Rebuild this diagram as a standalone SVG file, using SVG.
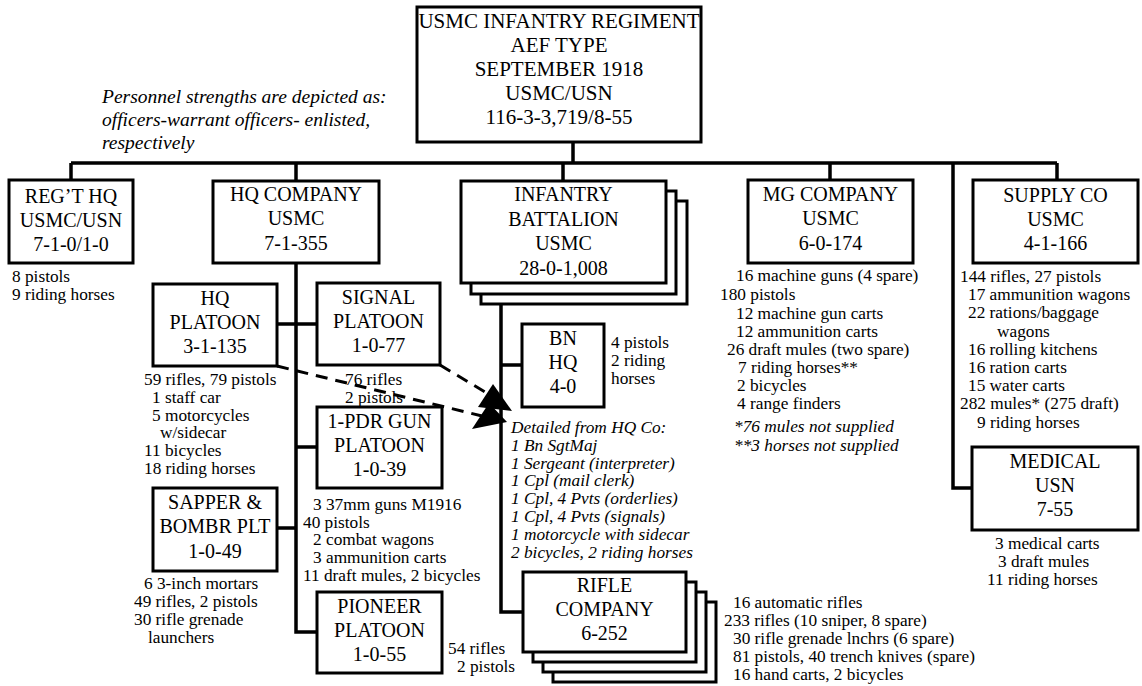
<svg xmlns="http://www.w3.org/2000/svg" width="1142" height="686" viewBox="0 0 1142 686" font-family="Liberation Serif, Times New Roman, Times, serif">
<style>
text{font-family:"Liberation Serif","Times New Roman",Times,serif;fill:#000}
.box{fill:#fff;stroke:#000;stroke-width:3}
.t{font-size:20px;text-anchor:middle}
.h{font-size:21px}
.l{font-size:17.3px}
.i{font-style:italic}
.n{font-size:19.5px}
.c{stroke:#000;stroke-width:3.5;fill:none}
.d{stroke:#000;stroke-width:3;fill:none;stroke-dasharray:12 8}
</style>
<rect width="1142" height="686" fill="#fff"/>

<g id="connectors">
<path class="c" d="M573 142V163M71 163H1057M71 163V180M296 163V181M563 163V181M830 163V180M1057 163V180M953 163V488H972"/>
<path class="c" d="M296 263V632H317M277 324H317M296 447H317M277 528H296"/>
<path class="c" d="M501 304V612H523M501 365H522"/>
<path class="d" d="M277 366L482 416M440 365L490 395"/>
<polygon points="493,384 478,407 512,411" fill="#000"/>
<polygon points="489,403 472,429 507,422" fill="#000"/>
</g>

<g id="note">
<text class="l i n" x="102" y="103">Personnel strengths are depicted as:</text>
<text class="l i n" x="102" y="126">officers-warrant officers- enlisted,</text>
<text class="l i n" x="102" y="149">respectively</text>
</g>

<g id="regiment">
<rect class="box" x="417" y="7" width="284" height="135"/>
<text class="t h" x="559" y="28">USMC INFANTRY REGIMENT</text>
<text class="t h" x="559" y="52">AEF TYPE</text>
<text class="t h" x="559" y="76">SEPTEMBER 1918</text>
<text class="t h" x="559" y="100">USMC/USN</text>
<text class="t h" x="559" y="124">116-3-3,719/8-55</text>
</g>

<g id="regt-hq">
<rect class="box" x="9" y="180" width="124" height="83"/>
<text class="t" x="71" y="203">REG’T HQ</text>
<text class="t" x="71" y="227">USMC/USN</text>
<text class="t" x="71" y="251">7-1-0/1-0</text>
<text class="l" x="12" y="282">8 pistols</text>
<text class="l" x="12" y="300">9 riding horses</text>
</g>

<g id="hq-company">
<rect class="box" x="213" y="181" width="166" height="82"/>
<text class="t" x="296" y="201">HQ COMPANY</text>
<text class="t" x="296" y="225">USMC</text>
<text class="t" x="296" y="250">7-1-355</text>
</g>

<g id="hq-platoon">
<rect class="box" x="153" y="284" width="124" height="82"/>
<text class="t" x="215" y="305">HQ</text>
<text class="t" x="215" y="329">PLATOON</text>
<text class="t" x="215" y="353">3-1-135</text>
<text class="l" x="144" y="385">59 rifles, 79 pistols</text>
<text class="l" x="152" y="403">1 staff car</text>
<text class="l" x="152" y="421">5 motorcycles</text>
<text class="l" x="160" y="438">w/sidecar</text>
<text class="l" x="144" y="456">11 bicycles</text>
<text class="l" x="144" y="474">18 riding horses</text>
</g>

<g id="signal-platoon">
<rect class="box" x="317" y="283" width="123" height="82"/>
<text class="t" x="378.5" y="304">SIGNAL</text>
<text class="t" x="378.5" y="328">PLATOON</text>
<text class="t" x="378.5" y="352">1-0-77</text>
<text class="l" x="345" y="385">76 rifles</text>
<text class="l" x="345" y="403">2 pistols</text>
</g>

<g id="pdr-platoon">
<rect class="box" x="317" y="407" width="125" height="81"/>
<text class="t" x="379.5" y="428">1-PDR GUN</text>
<text class="t" x="379.5" y="452">PLATOON</text>
<text class="t" x="379.5" y="476">1-0-39</text>
<text class="l" x="313" y="510">3 37mm guns M1916</text>
<text class="l" x="303" y="528">40 pistols</text>
<text class="l" x="313" y="545">2 combat wagons</text>
<text class="l" x="313" y="563">3 ammunition carts</text>
<text class="l" x="303" y="581">11 draft mules, 2 bicycles</text>
</g>

<g id="sapper-platoon">
<rect class="box" x="153" y="488" width="124" height="83"/>
<text class="t" x="215" y="509">SAPPER &amp;</text>
<text class="t" x="215" y="533">BOMBR PLT</text>
<text class="t" x="215" y="558">1-0-49</text>
<text class="l" x="144" y="589">6 3-inch mortars</text>
<text class="l" x="134" y="607">49 rifles, 2 pistols</text>
<text class="l" x="134" y="625">30 rifle grenade</text>
<text class="l" x="148" y="643">launchers</text>
</g>

<g id="pioneer-platoon">
<rect class="box" x="317" y="592" width="125" height="81"/>
<text class="t" x="379.5" y="613">PIONEER</text>
<text class="t" x="379.5" y="637">PLATOON</text>
<text class="t" x="379.5" y="661">1-0-55</text>
<text class="l" x="448" y="654">54 rifles</text>
<text class="l" x="457" y="672">2 pistols</text>
</g>

<g id="infantry-battalion">
<rect class="box" x="481" y="201" width="206" height="103"/>
<rect class="box" x="471" y="191" width="205" height="103"/>
<rect class="box" x="461" y="181" width="205" height="102"/>
<text class="t" x="563.5" y="201">INFANTRY</text>
<text class="t" x="563.5" y="226">BATTALION</text>
<text class="t" x="563.5" y="250">USMC</text>
<text class="t" x="563.5" y="275">28-0-1,008</text>
</g>

<g id="bn-hq">
<rect class="box" x="522" y="324" width="82" height="83"/>
<text class="t" x="563" y="345">BN</text>
<text class="t" x="563" y="369">HQ</text>
<text class="t" x="563" y="393">4-0</text>
<text class="l" x="611" y="348">4 pistols</text>
<text class="l" x="611" y="366">2 riding</text>
<text class="l" x="611" y="384">horses</text>
</g>

<g id="detailed">
<text class="l i" x="511" y="433">Detailed from HQ Co:</text>
<text class="l i" x="511" y="451">1 Bn SgtMaj</text>
<text class="l i" x="511" y="469">1 Sergeant (interpreter)</text>
<text class="l i" x="511" y="486">1 Cpl (mail clerk)</text>
<text class="l i" x="511" y="504">1 Cpl, 4 Pvts (orderlies)</text>
<text class="l i" x="511" y="522">1 Cpl, 4 Pvts (signals)</text>
<text class="l i" x="511" y="540">1 motorcycle with sidecar</text>
<text class="l i" x="511" y="558">2 bicycles, 2 riding horses</text>
</g>

<g id="rifle-company">
<rect class="box" x="553" y="602" width="163" height="80"/>
<rect class="box" x="543" y="592" width="163" height="80"/>
<rect class="box" x="533" y="582" width="163" height="80"/>
<rect class="box" x="523" y="572" width="163" height="80"/>
<text class="t" x="604.5" y="592">RIFLE</text>
<text class="t" x="604.5" y="616">COMPANY</text>
<text class="t" x="604.5" y="640">6-252</text>
<text class="l" x="733" y="608">16 automatic rifles</text>
<text class="l" x="724" y="626">233 rifles (10 sniper, 8 spare)</text>
<text class="l" x="733" y="644">30 rifle grenade lnchrs (6 spare)</text>
<text class="l" x="733" y="662">81 pistols, 40 trench knives (spare)</text>
<text class="l" x="733" y="680">16 hand carts, 2 bicycles</text>
</g>

<g id="mg-company">
<rect class="box" x="748" y="180" width="165" height="83"/>
<text class="t" x="830.5" y="201">MG COMPANY</text>
<text class="t" x="830.5" y="225">USMC</text>
<text class="t" x="830.5" y="250">6-0-174</text>
<text class="l" x="736" y="281">16 machine guns (4 spare)</text>
<text class="l" x="720" y="300">180 pistols</text>
<text class="l" x="736" y="319">12 machine gun carts</text>
<text class="l" x="736" y="337">12 ammunition carts</text>
<text class="l" x="727" y="355">26 draft mules (two spare)</text>
<text class="l" x="738" y="373">7 riding horses**</text>
<text class="l" x="737" y="391">2 bicycles</text>
<text class="l" x="737" y="409">4 range finders</text>
<text class="l i" x="734" y="432">*76 mules not supplied</text>
<text class="l i" x="734" y="451">**3 horses not supplied</text>
</g>

<g id="supply-co">
<rect class="box" x="973" y="180" width="165" height="83"/>
<text class="t" x="1055.5" y="202">SUPPLY CO</text>
<text class="t" x="1055.5" y="226">USMC</text>
<text class="t" x="1055.5" y="250">4-1-166</text>
<text class="l" x="960" y="282">144 rifles, 27 pistols</text>
<text class="l" x="968" y="300">17 ammunition wagons</text>
<text class="l" x="968" y="318">22 rations/baggage</text>
<text class="l" x="997" y="337">wagons</text>
<text class="l" x="968" y="355">16 rolling kitchens</text>
<text class="l" x="968" y="373">16 ration carts</text>
<text class="l" x="968" y="391">15 water carts</text>
<text class="l" x="960" y="409">282 mules* (275 draft)</text>
<text class="l" x="977" y="428">9 riding horses</text>
</g>

<g id="medical">
<rect class="box" x="972" y="447" width="166" height="83"/>
<text class="t" x="1055" y="468">MEDICAL</text>
<text class="t" x="1055" y="492">USN</text>
<text class="t" x="1055" y="516">7-55</text>
<text class="l" x="995" y="549">3 medical carts</text>
<text class="l" x="998" y="567">3 draft mules</text>
<text class="l" x="987" y="585">11 riding horses</text>
</g>
</svg>
